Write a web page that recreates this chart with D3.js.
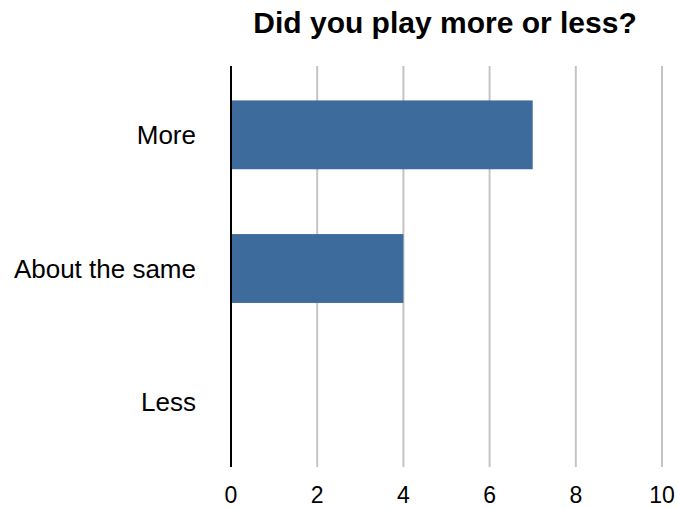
<!DOCTYPE html>
<head>
<meta charset="utf-8">
<style>
body { margin: 0; background: #fff; }
svg { font-family: "Liberation Sans", Arial, Helvetica, sans-serif; }
.grid line { stroke: #c4c4c4; stroke-width: 2px; }
.title { font-size: 30px; font-weight: bold; }
.ylab { font-size: 26px; fill: #000; }
.xlab { font-size: 23px; fill: #000; }
</style>
</head>
<body>
<svg width="678" height="508"></svg>
<script src="https://d3js.org/d3.v7.min.js"></script>
<script>
// data
var categories = ["More", "About the same", "Less"];
var counts = [7, 4, 0];
var xTicks = [0, 2, 4, 6, 8, 10];

var svg = d3.select("svg");
var plotLeft = 231, plotRight = 662, plotTop = 66, plotBottom = 467;

var x = d3.scaleLinear().domain([0, 10]).range([plotLeft, plotRight]);
var y = d3.scaleBand().domain(categories).range([67, 470])
    .paddingInner(0.485).paddingOuter(0.25);

// title
svg.append("text").attr("class", "title")
  .attr("x", 445).attr("y", 33)
  .attr("text-anchor", "middle")
  .text("Did you play more or less?");

// gridlines (skip 0, axis line drawn later)
svg.append("g").attr("class", "grid")
  .selectAll("line")
  .data(xTicks.filter(function(d) { return d > 0; }))
  .enter().append("line")
  .attr("x1", function(d) { return x(d); })
  .attr("x2", function(d) { return x(d); })
  .attr("y1", plotTop).attr("y2", plotBottom);

// bars
svg.append("g")
  .selectAll("rect")
  .data(categories)
  .enter().append("rect")
  .attr("x", x(0))
  .attr("y", function(d) { return y(d); })
  .attr("height", y.bandwidth())
  .attr("width", function(d, i) { return x(counts[i]) - x(0); })
  .attr("fill", "#3c6b9c");

// y axis line
svg.append("line")
  .attr("x1", x(0)).attr("x2", x(0))
  .attr("y1", plotTop).attr("y2", plotBottom)
  .attr("stroke", "#000").attr("stroke-width", 2);

// category labels
svg.append("g")
  .selectAll("text")
  .data(categories)
  .enter().append("text")
  .attr("class", "ylab")
  .attr("x", 196)
  .attr("y", function(d) { return y(d) + y.bandwidth() / 2; })
  .attr("dy", "0.35em")
  .attr("text-anchor", "end")
  .text(function(d) { return d; });

// tick labels
svg.append("g")
  .selectAll("text")
  .data(xTicks)
  .enter().append("text")
  .attr("class", "xlab")
  .attr("x", function(d) { return x(d); })
  .attr("y", 503)
  .attr("text-anchor", "middle")
  .text(function(d) { return d; });
</script>
</body>
